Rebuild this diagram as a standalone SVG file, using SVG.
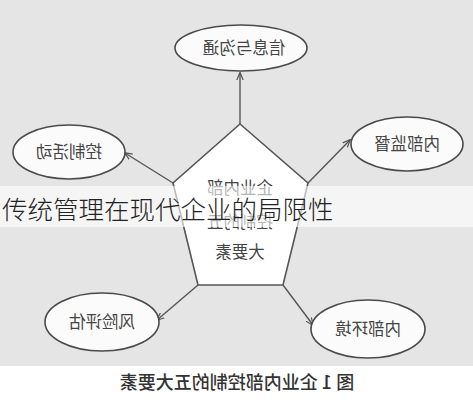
<svg xmlns="http://www.w3.org/2000/svg" width="473" height="400" viewBox="0 0 473 400">
<defs>
<style>
.node ellipse{fill:#fbfbfb;stroke:#4a4a4a;stroke-width:1.6}
.lbl{font-family:"Noto Sans CJK SC","Noto Sans",sans-serif;font-size:16.5px;fill:#444;text-anchor:middle}
.conn line{stroke:#555;stroke-width:1.4;marker-end:url(#ah)}
</style>
<marker id="ah" viewBox="0 0 10 10" refX="9" refY="5" markerWidth="8" markerHeight="8" orient="auto" markerUnits="userSpaceOnUse">
<path d="M0,1 L10,5 L0,9" fill="none" stroke="#555" stroke-width="1.5"/>
</marker>
</defs>
<rect x="0" y="0" width="473" height="366" fill="#e5e5e5"/>
<rect x="0" y="366" width="473" height="34" fill="#ffffff"/>
<g id="center">
<polygon points="240,124 308,183 283,285 198,285 173,183" fill="#ffffff" stroke="#555" stroke-width="1.6"/>
<text class="lbl" transform="translate(240,194) scale(-1,1)">企业内部</text>
<text class="lbl" transform="translate(240,228) scale(-1,1)">控制的五</text>
<text class="lbl" transform="translate(240,258) scale(-1,1)">大要素</text>
</g>
<g class="conn" id="connectors">
<line x1="240" y1="124" x2="240" y2="73"/>
<line x1="173" y1="183" x2="125" y2="153"/>
<line x1="308" y1="183" x2="350" y2="140"/>
<line x1="198" y1="285" x2="157" y2="320"/>
<line x1="283" y1="285" x2="313" y2="325"/>
</g>
<g id="n-top" class="node">
<ellipse cx="241" cy="48" rx="66" ry="23"/>
<text class="lbl" transform="translate(244,54) scale(-1,1)">信息与沟通</text>
</g>
<g id="n-left" class="node">
<ellipse cx="69" cy="152" rx="56" ry="27"/>
<text class="lbl" transform="translate(69,158) scale(-1,1)">控制活动</text>
</g>
<g id="n-right" class="node">
<ellipse cx="407" cy="144" rx="56" ry="27"/>
<text class="lbl" transform="translate(407,150) scale(-1,1)">内部监督</text>
</g>
<g id="n-bl" class="node">
<ellipse cx="102" cy="322" rx="57" ry="29"/>
<text class="lbl" transform="translate(102,328) scale(-1,1)">风险评估</text>
</g>
<g id="n-br" class="node">
<ellipse cx="368" cy="329" rx="57" ry="29"/>
<text class="lbl" transform="translate(368,335) scale(-1,1)">内部环境</text>
</g>
<text transform="translate(237,389) scale(-1,1)" text-anchor="middle" font-family="Noto Sans CJK SC,sans-serif" font-size="18" font-weight="500" fill="#333">图 1  企业内部控制的五大要素</text>
<rect x="0" y="186" width="473" height="41" fill="#ffffff" fill-opacity="0.6"/>
<text x="2" y="219" font-family="Noto Sans CJK SC,sans-serif" font-size="25.5" font-weight="300" fill="#222">传统管理在现代企业的局限性</text>
</svg>
